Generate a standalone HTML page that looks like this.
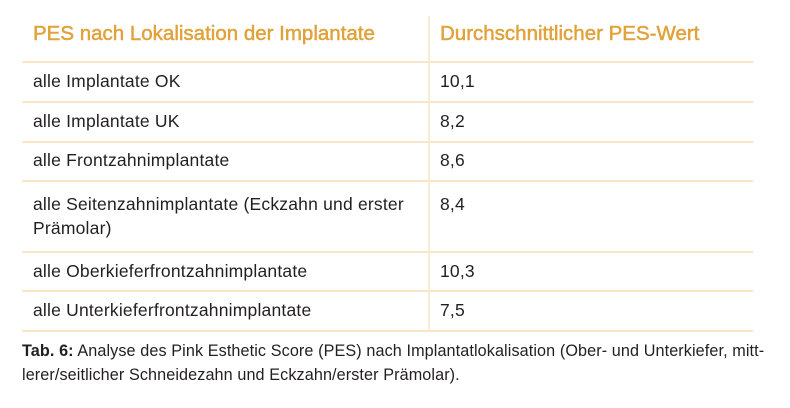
<!DOCTYPE html>
<html><head><meta charset="utf-8"><style>
body{margin:0;width:790px;height:408px;background:#fff;overflow:hidden;position:relative;font-family:"Liberation Sans",sans-serif;color:#231f20}
.t{position:absolute;white-space:nowrap}
.h{color:#e0a23a;font-size:20.5px;top:22px;-webkit-text-stroke:0.5px #e0a23a}
.r{font-size:17.5px;letter-spacing:0.2px}
.ln{position:absolute;left:22px;width:731px;height:2px;background:#f8e6c6}
.vl{position:absolute;left:428px;top:16px;width:2px;height:316px;background:#faecd4}
.cap{font-size:16.2px;left:22px;letter-spacing:0.1px}
</style></head><body>
<div class="vl"></div>
<div class="t h" style="left:33px">PES nach Lokalisation der Implantate</div>
<div class="t h" style="left:440px">Durchschnittlicher PES-Wert</div>
<div class="ln" style="top:61px"></div>
<div class="t r" style="left:33px;top:71px">alle Implantate OK</div>
<div class="t r" style="left:440px;top:71px">10,1</div>
<div class="ln" style="top:101px"></div>
<div class="t r" style="left:33px;top:111px">alle Implantate UK</div>
<div class="t r" style="left:440px;top:111px">8,2</div>
<div class="ln" style="top:141px"></div>
<div class="t r" style="left:33px;top:150px">alle Frontzahnimplantate</div>
<div class="t r" style="left:440px;top:150px">8,6</div>
<div class="ln" style="top:180px"></div>
<div class="t r" style="left:33px;top:192px;line-height:24px">alle Seitenzahnimplantate (Eckzahn und erster<br>Prämolar)</div>
<div class="t r" style="left:440px;top:192px;line-height:24px">8,4</div>
<div class="ln" style="top:251px"></div>
<div class="t r" style="left:33px;top:261px">alle Oberkieferfrontzahnimplantate</div>
<div class="t r" style="left:440px;top:261px">10,3</div>
<div class="ln" style="top:290px"></div>
<div class="t r" style="left:33px;top:300px">alle Unterkieferfrontzahnimplantate</div>
<div class="t r" style="left:440px;top:300px">7,5</div>
<div class="ln" style="top:330px"></div>
<div class="t cap" style="top:342px"><b>Tab. 6:</b> Analyse des Pink Esthetic Score (PES) nach Implantatlokalisation (Ober- und Unterkiefer, mitt-</div>
<div class="t cap" style="top:366px">lerer/seitlicher Schneidezahn und Eckzahn/erster Prämolar).</div>
</body></html>
